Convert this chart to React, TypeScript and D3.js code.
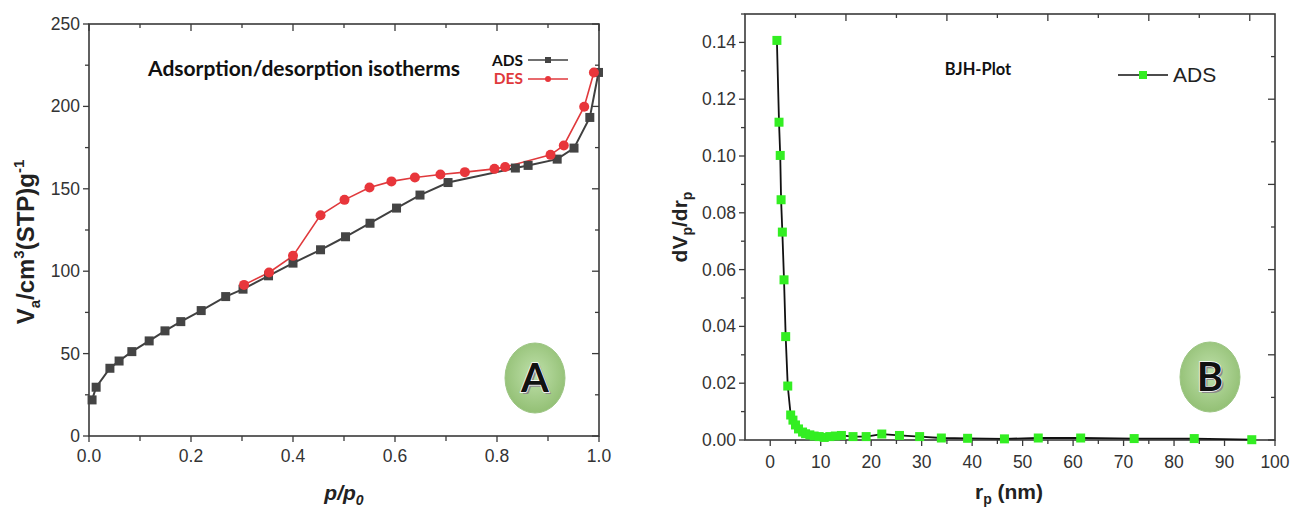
import React from "react";
import * as d3 from "d3";

// ---------- Panel A data ----------
const adsP = [0.006, 0.014, 0.041, 0.059, 0.084, 0.118, 0.149, 0.18, 0.22, 0.268, 0.302, 0.352, 0.4, 0.454, 0.503, 0.551, 0.603, 0.649, 0.704, 0.836, 0.861, 0.918, 0.951, 0.982, 0.999];
const adsV = [21.9, 29.6, 41.1, 45.5, 51.2, 57.7, 63.8, 69.4, 76.1, 84.6, 89.1, 97.2, 104.9, 113.0, 120.9, 129.1, 138.3, 146.2, 153.8, 162.6, 164.2, 168.0, 174.7, 193.3, 220.6];
const desP = [0.304, 0.353, 0.4, 0.454, 0.501, 0.55, 0.593, 0.639, 0.689, 0.737, 0.795, 0.816, 0.905, 0.931, 0.971, 0.99];
const desV = [91.7, 99.2, 109.3, 134.0, 143.3, 150.8, 154.5, 156.9, 158.7, 160.1, 162.1, 163.2, 170.6, 176.3, 199.8, 220.6];
const xTicksA = ["0.0", "0.2", "0.4", "0.6", "0.8", "1.0"];
const yTicksA = ["0", "50", "100", "150", "200", "250"];

// ---------- Panel B data ----------
const bjhR = [1.32, 1.74, 1.98, 2.15, 2.4, 2.73, 3.06, 3.47, 4.05, 4.5, 5.0, 5.6, 6.4, 7.0, 7.85, 8.7, 9.7, 10.7, 11.8, 12.9, 14.1, 16.4, 19.0, 22.1, 25.6, 29.6, 33.9, 39.1, 46.4, 53.1, 61.5, 72.1, 84.0, 95.4];
const bjhV = [0.1407, 0.1119, 0.1002, 0.0846, 0.0732, 0.0564, 0.0364, 0.019, 0.0088, 0.007, 0.0053, 0.0039, 0.0028, 0.0022, 0.0018, 0.0014, 0.0012, 0.0009, 0.0012, 0.0014, 0.0016, 0.0012, 0.0012, 0.0021, 0.0016, 0.0012, 0.0007, 0.0006, 0.0004, 0.0007, 0.0007, 0.0005, 0.0005, 0.0001];
const xTicksB = ["0", "10", "20", "30", "40", "50", "60", "70", "80", "90", "100"];
const yTicksB = ["0.00", "0.02", "0.04", "0.06", "0.08", "0.10", "0.12", "0.14"];

const AXIS = "#3a3a3a";
const TICKFONT = "'Liberation Sans', Arial, sans-serif";
const CAL = "Lato, 'Open Sans', sans-serif";

function Badge({ cx, cy, letter, id }: { cx: number; cy: number; letter: string; id: string }) {
  return (
    <g>
      <defs>
        <radialGradient id={id} cx="50%" cy="45%" r="60%">
          <stop offset="0%" stopColor="#bfe0aa" />
          <stop offset="100%" stopColor="#8fbd70" />
        </radialGradient>
      </defs>
      <ellipse cx={cx} cy={cy} rx={30} ry={35} fill={`url(#${id})`} stroke="#9cc583" strokeWidth={1} />
      <text x={cx + 2} y={cy + 16} textAnchor="middle" fontFamily={CAL} fontWeight={700} fontSize={40} fill="#8a8a8a">{letter}</text>
      <text x={cx} y={cy + 14} textAnchor="middle" fontFamily={CAL} fontWeight={700} fontSize={40} fill="#111" stroke="#fff" strokeWidth={1.5} style={{ paintOrder: "stroke" }}>{letter}</text>
    </g>
  );
}

function PanelA() {
  const x = d3.scaleLinear().domain([0, 1]).range([89, 599]);
  const y = d3.scaleLinear().domain([0, 250]).range([436, 24]);
  const ads = adsP.map((p, i) => [p, adsV[i]] as [number, number]);
  const des = desP.map((p, i) => [p, desV[i]] as [number, number]);
  const line = d3.line<[number, number]>().x((d) => x(d[0])).y((d) => y(d[1]));
  const xt = d3.range(0, 1.0001, 0.1);
  const yt = d3.range(0, 250.001, 25);
  const [x0, x1] = x.range();
  const [y0, y1] = y.range();
  return (
    <g>
      <rect x={x0} y={y1} width={x1 - x0} height={y0 - y1} fill="none" stroke={AXIS} strokeWidth={1.6} />
      {xt.map((t, i) => {
        const major = i % 2 === 0;
        return (
          <g key={"xt" + i}>
            <line x1={x(t)} x2={x(t)} y1={y0} y2={y0 + (major ? 6 : 5)} stroke={AXIS} strokeWidth={1.3} />
            <line x1={x(t)} x2={x(t)} y1={y1} y2={y1 + (major ? 7 : 4)} stroke={AXIS} strokeWidth={1.3} />
          </g>
        );
      })}
      {yt.map((t, i) => {
        const major = i % 2 === 0;
        return (
          <g key={"yt" + i}>
            <line x1={x0} x2={x0 - (major ? 6 : 4)} y1={y(t)} y2={y(t)} stroke={AXIS} strokeWidth={1.3} />
            <line x1={x1} x2={x1 - (major ? 7 : 4)} y1={y(t)} y2={y(t)} stroke={AXIS} strokeWidth={1.3} />
          </g>
        );
      })}
      {xTicksA.map((s) => (
        <text key={s} x={x(+s)} y={462} textAnchor="middle" fontFamily={TICKFONT} fontSize={17.5} fill="#333">{s}</text>
      ))}
      {yTicksA.map((s) => (
        <text key={s} x={x0 - 9} y={y(+s) + 6} textAnchor="end" fontFamily={TICKFONT} fontSize={17.5} fill="#333">{s}</text>
      ))}
      <path d={line(ads) || ""} fill="none" stroke="#404040" strokeWidth={2} />
      <path d={line(des) || ""} fill="none" stroke="#e0393c" strokeWidth={1.6} />
      {ads.map((d, i) => (
        <rect key={"a" + i} x={x(d[0]) - 4.5} y={y(d[1]) - 4.5} width={9} height={9} fill="#444" />
      ))}
      {des.map((d, i) => (
        <circle key={"d" + i} cx={x(d[0])} cy={y(d[1])} r={5} fill="#e8363b" />
      ))}
      <text x={304} y={76} textAnchor="middle" fontFamily={CAL} fontWeight={700} fontSize={21} fill="#111">Adsorption/desorption isotherms</text>
      {/* legend */}
      <text x={523} y={66} textAnchor="end" fontFamily={CAL} fontWeight={700} fontSize={15.5} fill="#111">ADS</text>
      <line x1={528} x2={568} y1={60} y2={60} stroke="#404040" strokeWidth={1.5} />
      <rect x={545} y={57} width={6} height={6} fill="#444" />
      <text x={523} y={84} textAnchor="end" fontFamily={CAL} fontWeight={700} fontSize={15.5} fill="#e0393c">DES</text>
      <line x1={528} x2={568} y1={79} y2={79} stroke="#e0393c" strokeWidth={1.5} />
      <circle cx={548} cy={79} r={3} fill="#e8363b" />
      {/* axis titles */}
      <text transform="translate(34,242) rotate(-90)" textAnchor="middle" fontFamily={TICKFONT} fontWeight={700} fontSize={24} fill="#222">
        V<tspan fontSize={15} dy={6}>a</tspan><tspan dy={-6}>/cm</tspan><tspan fontSize={15} dy={-10}>3</tspan><tspan dy={10}>(STP)g</tspan><tspan fontSize={15} dy={-10}>-1</tspan>
      </text>
      <text x={344} y={500} textAnchor="middle" fontFamily={TICKFONT} fontWeight={700} fontStyle="italic" fontSize={21} fill="#222">
        p/p<tspan fontSize={14} dy={5}>0</tspan>
      </text>
      <Badge cx={535} cy={378} letter="A" id="gA" />
    </g>
  );
}

function PanelB() {
  const x = d3.scaleLinear().domain([-5, 100]).range([745, 1275]);
  const y = d3.scaleLinear().domain([0, 0.15]).range([440, 14]);
  const pts = bjhR.map((r, i) => [r, bjhV[i]] as [number, number]);
  const line = d3.line<[number, number]>().x((d) => x(d[0])).y((d) => y(d[1]));
  const [x0, x1] = x.range();
  const [y0, y1] = y.range();
  const bx = d3.range(0, 100.001, 5);
  const by = d3.range(0, 0.1501, 0.01);
  const tx = d3.range(5, 100.001, 10);
  const ry = d3.range(0.135, -0.0001, -0.015);
  return (
    <g>
      <rect x={x0} y={y1} width={x1 - x0} height={y0 - y1} fill="none" stroke={AXIS} strokeWidth={1.6} />
      {bx.map((t, i) => (
        <line key={"bx" + i} x1={x(t)} x2={x(t)} y1={y0} y2={y0 + (i % 2 === 0 ? 6 : 4)} stroke={AXIS} strokeWidth={1.3} />
      ))}
      {tx.map((t, i) => (
        <line key={"tx" + i} x1={x(t)} x2={x(t)} y1={y1} y2={y1 + (i % 2 === 1 ? 7 : 4)} stroke={AXIS} strokeWidth={1.3} />
      ))}
      {by.map((t, i) => (
        <line key={"by" + i} x1={x0} x2={x0 - (i % 2 === 0 ? 6 : 4)} y1={y(t)} y2={y(t)} stroke={AXIS} strokeWidth={1.3} />
      ))}
      {ry.map((t, i) => (
        <line key={"ry" + i} x1={x1} x2={x1 - (i % 2 === 1 ? 7 : 4)} y1={y(t)} y2={y(t)} stroke={AXIS} strokeWidth={1.3} />
      ))}
      {xTicksB.map((s) => (
        <text key={s} x={x(+s)} y={468} textAnchor="middle" fontFamily={TICKFONT} fontSize={17.5} fill="#333">{s}</text>
      ))}
      {yTicksB.map((s) => (
        <text key={s} x={x0 - 9} y={y(+s) + 6} textAnchor="end" fontFamily={TICKFONT} fontSize={17.5} fill="#333">{s}</text>
      ))}
      <path d={line(pts) || ""} fill="none" stroke="#111" strokeWidth={1.8} />
      {pts.map((d, i) => (
        <rect key={"p" + i} x={x(d[0]) - 4.5} y={y(d[1]) - 4.5} width={9} height={9} fill="#33ee22" />
      ))}
      <text x={978} y={75} textAnchor="middle" fontFamily={CAL} fontWeight={700} fontSize={16.5} fill="#111">BJH-Plot</text>
      <line x1={1118} x2={1168} y1={75} y2={75} stroke="#111" strokeWidth={1.6} />
      <rect x={1139} y={71} width={8} height={8} fill="#33ee22" />
      <text x={1173} y={82} fontFamily={TICKFONT} fontSize={21} fill="#222">ADS</text>
      <text transform="translate(687,227) rotate(-90)" textAnchor="middle" fontFamily={TICKFONT} fontWeight={700} fontSize={21} fill="#222">
        dV<tspan fontSize={14} dy={5}>p</tspan><tspan dy={-5}>/dr</tspan><tspan fontSize={14} dy={5}>p</tspan>
      </text>
      <text x={1009} y={499} textAnchor="middle" fontFamily={TICKFONT} fontWeight={700} fontSize={21} fill="#222">
        r<tspan fontSize={14} dy={5}>p</tspan><tspan dy={-5}> (nm)</tspan>
      </text>
      <Badge cx={1210} cy={377} letter="B" id="gB" />
    </g>
  );
}

export default function App() {
  return (
    <svg width={1290} height={509} style={{ position: "absolute", left: 0, top: 0, background: "#fff" }}>
      <rect width={1290} height={509} fill="#fff" />
      <PanelA />
      <PanelB />
    </svg>
  );
}
